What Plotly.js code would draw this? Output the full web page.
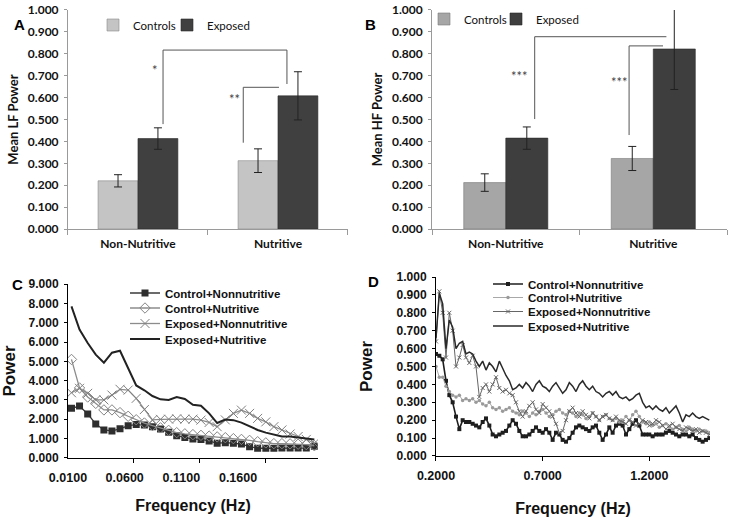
<!DOCTYPE html>
<html>
<head>
<meta charset="utf-8">
<script src="https://cdn.plot.ly/plotly-3.0.1.min.js"></script>
<style>html,body{margin:0;padding:0;background:#fff;}#chart{width:734px;height:520px;}</style>
</head>
<body>
<div id="chart"></div>
<script>
// ---------- Panel A / B (bar charts) ----------
const groups = ['Non-Nutritive', 'Nutritive'];
const lfControls = [0.220, 0.312];
const lfControlsErr = [0.028, 0.054];
const lfExposed = [0.413, 0.608];
const lfExposedErr = [0.049, 0.110];
const hfControls = [0.212, 0.322];
const hfControlsErr = [0.040, 0.055];
const hfExposed = [0.415, 0.822];
const hfExposedErr = [0.051, 0.185];

// ---------- Panel C (LF spectrum) ----------
const freqC = [0.0131, 0.0202, 0.0274, 0.0345, 0.0417, 0.0488, 0.0559, 0.0631, 0.0702, 0.0774,
  0.0845, 0.0916, 0.0988, 0.1059, 0.1131, 0.1202, 0.1273, 0.1345, 0.1416, 0.1488,
  0.1559, 0.1630, 0.1702, 0.1773, 0.1845, 0.1916, 0.1987, 0.2059, 0.2130, 0.2202, 0.2273];
const cControlNon = [2.56, 2.68, 2.27, 1.75, 1.44, 1.39, 1.50, 1.66, 1.72, 1.70,
  1.61, 1.49, 1.32, 1.14, 1.05, 0.97, 0.95, 0.87, 0.75, 0.78,
  0.75, 0.71, 0.57, 0.49, 0.49, 0.49, 0.50, 0.50, 0.50, 0.50, 0.60];
const cControlNut = [5.10, 3.62, 3.15, 2.82, 2.48, 2.48, 2.34, 2.15, 1.97, 1.80,
  1.67, 1.55, 1.42, 1.30, 1.24, 1.20, 1.16, 1.12, 1.08, 1.04,
  0.99, 0.95, 0.90, 0.83, 0.77, 0.73, 0.73, 0.72, 0.70, 0.68, 0.62];
const cExposedNon = [3.37, 3.60, 3.34, 3.00, 3.00, 3.25, 3.55, 3.51, 3.08, 2.50,
  1.96, 1.99, 2.00, 2.02, 2.00, 2.00, 1.95, 1.83, 1.61, 1.96,
  2.30, 2.47, 2.30, 2.04, 1.86, 1.61, 1.44, 1.23, 1.10, 0.95, 0.75];
const cExposedNut = [7.85, 6.65, 5.95, 5.35, 4.93, 5.45, 5.55, 4.65, 3.75, 3.50,
  3.20, 3.03, 3.00, 3.15, 3.05, 2.75, 2.70, 2.30, 1.80, 1.98,
  1.95, 1.82, 1.62, 1.44, 1.30, 1.18, 1.10, 1.10, 1.06, 0.99, 0.95];
const cTickVals = [0.01, 0.06, 0.11, 0.16];

// ---------- Panel D (HF spectrum) ----------
const freqD = [0.2, 0.2156, 0.2313, 0.2469, 0.2625, 0.2781, 0.2938, 0.3094, 0.325, 0.3406,
  0.3563, 0.3719, 0.3875, 0.4031, 0.4188, 0.4344, 0.45, 0.4656, 0.4813, 0.4969,
  0.5125, 0.5281, 0.5438, 0.5594, 0.575, 0.5906, 0.6063, 0.6219, 0.6375, 0.6531,
  0.6688, 0.6844, 0.7, 0.7156, 0.7313, 0.7469, 0.7625, 0.7781, 0.7938, 0.8094,
  0.825, 0.8406, 0.8563, 0.8719, 0.8875, 0.9031, 0.9188, 0.9344, 0.95, 0.9656,
  0.9813, 0.9969, 1.0125, 1.0281, 1.0438, 1.0594, 1.075, 1.0906, 1.1063, 1.1219,
  1.1375, 1.1531, 1.1688, 1.1844, 1.2, 1.2156, 1.2313, 1.2469, 1.2625, 1.2781,
  1.2938, 1.3094, 1.325, 1.3406, 1.3563, 1.3719, 1.3875, 1.4031, 1.4188, 1.4344,
  1.45, 1.4656, 1.4813];
const dControlNon = [0.57, 0.56, 0.54, 0.42, 0.34, 0.30, 0.22, 0.15, 0.20, 0.19,
  0.19, 0.18, 0.17, 0.16, 0.19, 0.21, 0.17, 0.12, 0.11, 0.12,
  0.13, 0.14, 0.17, 0.20, 0.18, 0.14, 0.11, 0.11, 0.12, 0.14,
  0.16, 0.14, 0.13, 0.15, 0.13, 0.09, 0.13, 0.12, 0.09, 0.08,
  0.10, 0.13, 0.16, 0.17, 0.16, 0.15, 0.14, 0.16, 0.17, 0.13,
  0.09, 0.12, 0.16, 0.13, 0.17, 0.18, 0.17, 0.12, 0.15, 0.18,
  0.20, 0.17, 0.12, 0.12, 0.12, 0.11, 0.12, 0.12, 0.12, 0.13,
  0.14, 0.13, 0.12, 0.11, 0.12, 0.12, 0.11, 0.12, 0.10, 0.09,
  0.08, 0.09, 0.10];
const dControlNut = [0.50, 0.44, 0.44, 0.39, 0.36, 0.34, 0.33, 0.34, 0.31, 0.32,
  0.31, 0.32, 0.30, 0.31, 0.29, 0.28, 0.30, 0.27, 0.26, 0.27,
  0.25, 0.26, 0.27, 0.25, 0.24, 0.23, 0.25, 0.24, 0.22, 0.24,
  0.23, 0.25, 0.26, 0.24, 0.22, 0.23, 0.25, 0.26, 0.24, 0.23,
  0.25, 0.24, 0.22, 0.24, 0.23, 0.21, 0.22, 0.24, 0.22, 0.20,
  0.22, 0.23, 0.21, 0.20, 0.21, 0.19, 0.20, 0.22, 0.20, 0.23,
  0.25, 0.22, 0.19, 0.18, 0.19, 0.17, 0.18, 0.16, 0.17, 0.18,
  0.16, 0.15, 0.16, 0.17, 0.15, 0.14, 0.16, 0.15, 0.14, 0.15,
  0.14, 0.14, 0.13];
const dExposedNon = [0.64, 0.92, 0.80, 0.55, 0.80, 0.70, 0.50, 0.55, 0.62, 0.55,
  0.52, 0.56, 0.50, 0.33, 0.38, 0.40, 0.36, 0.40, 0.44, 0.38,
  0.36, 0.37, 0.35, 0.34, 0.30, 0.25, 0.22, 0.25, 0.28, 0.30,
  0.26, 0.24, 0.29, 0.27, 0.25, 0.22, 0.18, 0.13, 0.14, 0.20,
  0.25, 0.27, 0.24, 0.22, 0.25, 0.23, 0.21, 0.24, 0.22, 0.20,
  0.22, 0.23, 0.21, 0.20, 0.22, 0.20, 0.19, 0.18, 0.20, 0.19,
  0.17, 0.18, 0.20, 0.19, 0.17, 0.18, 0.20, 0.19, 0.17, 0.15,
  0.17, 0.18, 0.16, 0.15, 0.14, 0.16, 0.15, 0.14, 0.15, 0.13,
  0.14, 0.13, 0.12];
const dExposedNut = [0.66, 0.91, 0.85, 0.60, 0.76, 0.72, 0.60, 0.63, 0.64, 0.57,
  0.58, 0.57, 0.53, 0.50, 0.53, 0.48, 0.52, 0.50, 0.47, 0.53,
  0.49, 0.45, 0.42, 0.37, 0.38, 0.40, 0.38, 0.41, 0.39, 0.36,
  0.40, 0.42, 0.39, 0.38, 0.36, 0.39, 0.41, 0.38, 0.35, 0.37,
  0.41, 0.39, 0.36, 0.40, 0.42, 0.39, 0.37, 0.39, 0.36, 0.35,
  0.33, 0.35, 0.36, 0.34, 0.36, 0.33, 0.32, 0.33, 0.31, 0.32,
  0.34, 0.35, 0.30, 0.27, 0.28, 0.26, 0.28, 0.26, 0.25, 0.27,
  0.24, 0.26, 0.28, 0.24, 0.19, 0.23, 0.22, 0.24, 0.22, 0.21,
  0.22, 0.21, 0.20];
const dTickVals = [0.2, 0.7, 1.2];

const seriesNames = ['Control+Nonnutritive', 'Control+Nutritive', 'Exposed+Nonnutritive', 'Exposed+Nutritive'];

const calibri = 'Lato, "Open Sans", sans-serif';
const arial = '"Liberation Sans", Arial, sans-serif';

function errBar(arr) {
  return {type: 'data', array: arr, visible: true, color: '#222', thickness: 1, width: 4};
}

const traces = [
  // A
  {type: 'bar', x: groups, y: lfControls, name: 'Controls', xaxis: 'x', yaxis: 'y', legend: 'legend',
   marker: {color: '#c4c4c4', line: {color: '#8a8a8a', width: 0.6}}, error_y: errBar(lfControlsErr)},
  {type: 'bar', x: groups, y: lfExposed, name: 'Exposed', xaxis: 'x', yaxis: 'y', legend: 'legend5',
   marker: {color: '#404040', line: {color: '#2a2a2a', width: 0.6}}, error_y: errBar(lfExposedErr)},
  // B
  {type: 'bar', x: groups, y: hfControls, name: 'Controls', xaxis: 'x2', yaxis: 'y2', legend: 'legend2',
   marker: {color: '#a6a6a6', line: {color: '#7a7a7a', width: 0.6}}, error_y: errBar(hfControlsErr)},
  {type: 'bar', x: groups, y: hfExposed, name: 'Exposed', xaxis: 'x2', yaxis: 'y2', legend: 'legend6', cliponaxis: false,
   marker: {color: '#3e3e3e', line: {color: '#2a2a2a', width: 0.6}}, error_y: errBar(hfExposedErr)},
  // C
  {type: 'scatter', mode: 'lines+markers', x: freqC, y: cControlNon, name: seriesNames[0], xaxis: 'x3', yaxis: 'y3', legend: 'legend3',
   line: {color: '#3a3a3a', width: 1.3}, marker: {symbol: 'square', size: 7, color: '#2e2e2e'}},
  {type: 'scatter', mode: 'lines+markers', x: freqC, y: cControlNut, name: seriesNames[1], xaxis: 'x3', yaxis: 'y3', legend: 'legend7',
   line: {color: '#8c8c8c', width: 1.3}, marker: {symbol: 'diamond-open', size: 8, color: '#858585', line: {width: 1, color: '#858585'}}},
  {type: 'scatter', mode: 'lines+markers', x: freqC, y: cExposedNon, name: seriesNames[2], xaxis: 'x3', yaxis: 'y3', legend: 'legend8',
   line: {color: '#8c8c8c', width: 1.3}, marker: {symbol: 'x-thin-open', size: 9, color: '#808080', line: {width: 1, color: '#808080'}}},
  {type: 'scatter', mode: 'lines', x: freqC, y: cExposedNut, name: seriesNames[3], xaxis: 'x3', yaxis: 'y3', legend: 'legend9',
   line: {color: '#222', width: 2}},
  // D
  {type: 'scatter', mode: 'lines+markers', x: freqD, y: dControlNon, name: seriesNames[0], xaxis: 'x4', yaxis: 'y4', legend: 'legend4',
   line: {color: '#1e1e1e', width: 1.6}, marker: {symbol: 'square', size: 4, color: '#1e1e1e'}},
  {type: 'scatter', mode: 'lines+markers', x: freqD, y: dControlNut, name: seriesNames[1], xaxis: 'x4', yaxis: 'y4', legend: 'legend10',
   line: {color: '#a8a8a8', width: 1}, marker: {symbol: 'circle', size: 3.5, color: '#9a9a9a'}},
  {type: 'scatter', mode: 'lines+markers', x: freqD, y: dExposedNon, name: seriesNames[2], xaxis: 'x4', yaxis: 'y4', legend: 'legend11',
   line: {color: '#666', width: 1}, marker: {symbol: 'x-thin-open', size: 4, color: '#666', line: {width: 1, color: '#666'}}},
  {type: 'scatter', mode: 'lines', x: freqD, y: dExposedNut, name: seriesNames[3], xaxis: 'x4', yaxis: 'y4', legend: 'legend12',
   line: {color: '#2a2a2a', width: 1.5}}
];

const barX = {
  type: 'category', range: [-0.5, 1.5], showline: true, linecolor: '#9a9a9a', linewidth: 1,
  ticks: 'outside', tickson: 'boundaries', ticklen: 5, tickcolor: '#9a9a9a',
  tickfont: {family: calibri, size: 12, color: '#111', weight: 'bold'}, showgrid: false, zeroline: false,
  fixedrange: true, automargin: false, ticklabelstandoff: 4
};
function barY(title) {
  return {
    range: [0, 1], tickvals: [0, 0.1, 0.2, 0.3, 0.4, 0.5, 0.6, 0.7, 0.8, 0.9, 1.0], tickformat: '.3f',
    showline: true, linecolor: '#9a9a9a', linewidth: 1, ticks: 'outside', ticklen: 3, tickcolor: '#9a9a9a',
    tickfont: {family: calibri, size: 12, color: '#111', weight: 'bold'}, showgrid: false, zeroline: false,
    automargin: false, ticklabelstandoff: 3,
    title: {text: title, font: {family: calibri, size: 13, color: '#111', weight: 'bold'}, standoff: 6}
  };
}
const lineY = (range, vals, standoff) => ({
  range: range, tickvals: vals, tickformat: '.3f', showline: true, linecolor: '#000', linewidth: 1,
  ticks: 'outside', ticklen: 3, tickcolor: '#000',
  tickfont: {family: arial, size: 12, color: '#111', weight: 'bold'}, showgrid: false, zeroline: false,
  automargin: false, ticklabelstandoff: 3,
  title: {text: 'Power', font: {family: arial, size: 17, color: '#111', weight: 'bold'}, standoff: standoff}
});

function oneLegend(xPx, yPx, font) {
  return {x: xPx / 734, y: 1 - yPx / 520, xanchor: 'left', yanchor: 'middle', bgcolor: 'rgba(0,0,0,0)',
    font: font, itemwidth: 30, borderwidth: 0};
}
const barLegFont = {family: calibri, size: 11.5, color: '#111'};
const lineLegFont = {family: arial, size: 11.5, color: '#111', weight: 'bold'};

const layout = {
  width: 734, height: 520, margin: {l: 0, r: 0, t: 0, b: 0},
  paper_bgcolor: '#fff', plot_bgcolor: 'rgba(0,0,0,0)', showlegend: true,
  barmode: 'group', bargap: 0.43, bargroupgap: 0,
  font: {family: calibri, color: '#111'},
  xaxis: Object.assign({domain: [0.0926, 0.4741], anchor: 'y'}, barX),
  yaxis: Object.assign({domain: [0.5596, 0.9808], anchor: 'x'}, barY('Mean LF Power')),
  xaxis2: Object.assign({domain: [0.5886, 0.9905], anchor: 'y2'}, barX),
  yaxis2: Object.assign({domain: [0.5596, 0.9808], anchor: 'x2'}, barY('Mean HF Power')),
  xaxis3: {
    domain: [0.0926, 0.4332], anchor: 'y3', range: [0.01, 0.2305], tickvals: cTickVals, tickformat: '.4f',
    showline: true, linecolor: '#000', linewidth: 1, ticks: '', showgrid: false, zeroline: false,
    minor: {tickmode: 'array', tickvals: [0.0679, 0.1264, 0.1846], ticks: 'outside', ticklen: 4, tickcolor: '#000', showgrid: false},
    tickfont: {family: arial, size: 12.5, color: '#111', weight: 'bold'}, automargin: false, ticklabelstandoff: 8,
    title: {text: 'Frequency (Hz)', font: {family: arial, size: 16, color: '#111', weight: 'bold'}, standoff: 16}
  },
  yaxis3: Object.assign({domain: [0.1198, 0.4533], anchor: 'x3'}, lineY([0, 9], [0, 1, 2, 3, 4, 5, 6, 7, 8, 9], 14)),
  xaxis4: {
    domain: [0.594, 0.9673], anchor: 'y4', range: [0.2, 1.4845], tickvals: dTickVals, tickformat: '.4f',
    showline: true, linecolor: '#000', linewidth: 1, ticks: 'outside', ticklen: 4, tickcolor: '#000',
    showgrid: false, zeroline: false,
    tickfont: {family: arial, size: 12.5, color: '#111', weight: 'bold'}, automargin: false, ticklabelstandoff: 4,
    title: {text: 'Frequency (Hz)', font: {family: arial, size: 16, color: '#111', weight: 'bold'}, standoff: 20}
  },
  yaxis4: Object.assign({domain: [0.1231, 0.4673], anchor: 'x4'}, lineY([0, 1], [0, 0.1, 0.2, 0.3, 0.4, 0.5, 0.6, 0.7, 0.8, 0.9, 1.0], 19)),
  // bar legends
  legend: oneLegend(93, 25, barLegFont),
  legend5: oneLegend(167, 25, barLegFont),
  legend2: oneLegend(424, 19, barLegFont),
  legend6: oneLegend(496, 19, barLegFont),
  // panel C legend rows
  legend3: oneLegend(125, 293, lineLegFont),
  legend7: oneLegend(125, 308, lineLegFont),
  legend8: oneLegend(125, 323.5, lineLegFont),
  legend9: oneLegend(125, 339, lineLegFont),
  // panel D legend rows
  legend4: oneLegend(488, 284, lineLegFont),
  legend10: oneLegend(488, 297.5, lineLegFont),
  legend11: oneLegend(488, 311.5, lineLegFont),
  legend12: oneLegend(488, 326, lineLegFont),
  shapes: [
    // A significance brackets
    {type: 'line', xref: 'x', yref: 'y', x0: 0.179, x1: 0.179, y0: 0.479, y1: 0.817, line: {color: '#555', width: 1}},
    {type: 'line', xref: 'x', yref: 'y', x0: 0.179, x1: 1.064, y0: 0.817, y1: 0.817, line: {color: '#555', width: 1}},
    {type: 'line', xref: 'x', yref: 'y', x0: 1.064, x1: 1.064, y0: 0.817, y1: 0.662, line: {color: '#555', width: 1}},
    {type: 'line', xref: 'x', yref: 'y', x0: 0.752, x1: 0.752, y0: 0.394, y1: 0.647, line: {color: '#555', width: 1}},
    {type: 'line', xref: 'x', yref: 'y', x0: 0.752, x1: 1.007, y0: 0.647, y1: 0.647, line: {color: '#555', width: 1}},
    // B significance brackets
    {type: 'line', xref: 'x2', yref: 'y2', x0: 0.196, x1: 0.196, y0: 0.502, y1: 0.878, line: {color: '#555', width: 1}},
    {type: 'line', xref: 'x2', yref: 'y2', x0: 0.196, x1: 1.089, y0: 0.878, y1: 0.878, line: {color: '#555', width: 1}},
    {type: 'line', xref: 'x2', yref: 'y2', x0: 0.836, x1: 0.836, y0: 0.429, y1: 0.836, line: {color: '#555', width: 1}},
    {type: 'line', xref: 'x2', yref: 'y2', x0: 0.836, x1: 1.066, y0: 0.836, y1: 0.836, line: {color: '#555', width: 1}}
  ],
  annotations: [
    {text: '*', xref: 'x', yref: 'y', x: 0.121, y: 0.725, showarrow: false, font: {family: calibri, size: 13, color: '#444'}},
    {text: '**', xref: 'x', yref: 'y', x: 0.69, y: 0.595, showarrow: false, font: {family: calibri, size: 13, color: '#444'}},
    {text: '***', xref: 'x2', yref: 'y2', x: 0.095, y: 0.70, showarrow: false, font: {family: calibri, size: 13, color: '#444'}},
    {text: '***', xref: 'x2', yref: 'y2', x: 0.773, y: 0.672, showarrow: false, font: {family: calibri, size: 13, color: '#444'}},
    {text: '<b>A</b>', xref: 'paper', yref: 'paper', x: 12 / 734, y: 1 - 14 / 520, showarrow: false, font: {family: arial, size: 15, color: '#000'}},
    {text: '<b>B</b>', xref: 'paper', yref: 'paper', x: 370 / 734, y: 1 - 14 / 520, showarrow: false, font: {family: arial, size: 15, color: '#000'}},
    {text: '<b>C</b>', xref: 'paper', yref: 'paper', x: 10 / 734, y: 1 - 284 / 520, showarrow: false, font: {family: arial, size: 15, color: '#000'}},
    {text: '<b>D</b>', xref: 'paper', yref: 'paper', x: 373 / 734, y: 1 - 281 / 520, showarrow: false, font: {family: arial, size: 15, color: '#000'}}
  ]
};

Plotly.newPlot('chart', traces, layout, {displayModeBar: false, staticPlot: true});
</script>
</body>
</html>
